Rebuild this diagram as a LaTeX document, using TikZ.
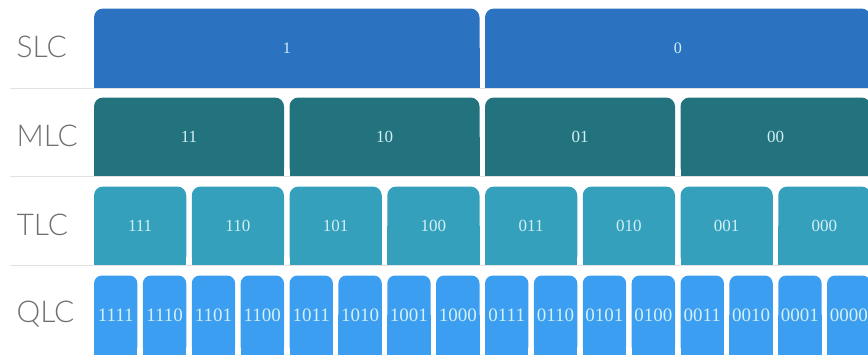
\documentclass[tikz,border=0pt]{standalone}
\usepackage{fontspec}
\setmainfont{Liberation Serif}
\newfontfamily\levelfont{Lato}[UprightFont={* Light}]
\usetikzlibrary{backgrounds}
\definecolor{SLCBlue}{HTML}{2B73C1}
\definecolor{MLCTeal}{HTML}{22737E}
\definecolor{TLCCyan}{HTML}{34A0BC}
\definecolor{QLCBlue}{HTML}{3C9EF1}
\definecolor{CellText}{HTML}{D2F0F5}
\definecolor{LevelGray}{HTML}{707070}
\definecolor{RuleGray}{HTML}{E2E2E2}

\begin{document}
\begin{tikzpicture}[
    x=1pt, y=-1pt,
    cell/.style={
      fill=#1,
      rounded corners=9pt,
      minimum height=79pt,
      inner sep=0pt,
      outer sep=0pt,
      text=CellText
    },
    level/.style={
      anchor=west,
      font=\levelfont\fontsize{30}{30}\selectfont,
      text=LevelGray
    },
    rule/.style={
      draw=RuleGray,
      line width=0.9pt
    }
  ]
  \useasboundingbox (0,0) rectangle (868,354);
  \clip (0,0) rectangle (868,354);

  % Level names
  \node[level] (slc) at (13,46.5)  {SLC};
  \node[level] (mlc) at (13,136)   {MLC};
  \node[level] (tlc) at (13,225)   {TLC};
  \node[level] (qlc) at (13,314.5) {QLC};

  % SLC: 2 states
  \foreach \bits [count=\i from 0] in {1,0} {
    \pgfmathsetmacro\cx{94+\i*391+192.75}
    \node[cell=SLCBlue, minimum width=385.5pt, font=\fontsize{16}{16}\selectfont]
      (slc-\i) at (\cx,48) {\bits};
    \begin{scope}[on background layer]
      \fill[SLCBlue] (slc-\i.west) rectangle (slc-\i.south east);
    \end{scope}
  }

  % MLC: 4 states
  \foreach \bits [count=\i from 0] in {11,10,01,00} {
    \pgfmathsetmacro\cx{94+\i*195.5+95}
    \node[cell=MLCTeal, minimum width=190pt, font=\fontsize{17}{17}\selectfont]
      (mlc-\i) at (\cx,137) {\bits};
    \begin{scope}[on background layer]
      \fill[MLCTeal] (mlc-\i.west) rectangle (mlc-\i.south east);
    \end{scope}
  }

  % TLC: 8 states
  \foreach \bits [count=\i from 0] in {111,110,101,100,011,010,001,000} {
    \pgfmathsetmacro\cx{94+\i*97.75+46.125}
    \node[cell=TLCCyan, minimum width=92.25pt, font=\fontsize{17}{17}\selectfont]
      (tlc-\i) at (\cx,226) {\bits};
    \begin{scope}[on background layer]
      \fill[TLCCyan] (tlc-\i.west) rectangle (tlc-\i.south east);
    \end{scope}
  }

  % QLC: 16 states
  \foreach \bits [count=\i from 0] in {1111,1110,1101,1100,1011,1010,1001,1000,
                                        0111,0110,0101,0100,0011,0010,0001,0000} {
    \pgfmathsetmacro\cx{94+\i*48.875+21.7}
    \node[cell=QLCBlue, rounded corners=8pt, minimum width=43.4pt,
          font=\fontsize{19}{19}\selectfont]
      (qlc-\i) at (\cx,315) {\bits};
    \begin{scope}[on background layer]
      \fill[QLCBlue] (qlc-\i.west) rectangle (qlc-\i.south east);
    \end{scope}
  }

  % Row separators
  \coordinate (sep-1) at (10,88);
  \coordinate (sep-2) at (10,176.5);
  \coordinate (sep-3) at (10,265.5);
  \draw[rule] (sep-1) -- (sep-1 -| slc-1.east);
  \draw[rule] (sep-2) -- (sep-2 -| mlc-3.east);
  \draw[rule] (sep-3) -- (sep-3 -| tlc-7.east);

\end{tikzpicture}
\end{document}
